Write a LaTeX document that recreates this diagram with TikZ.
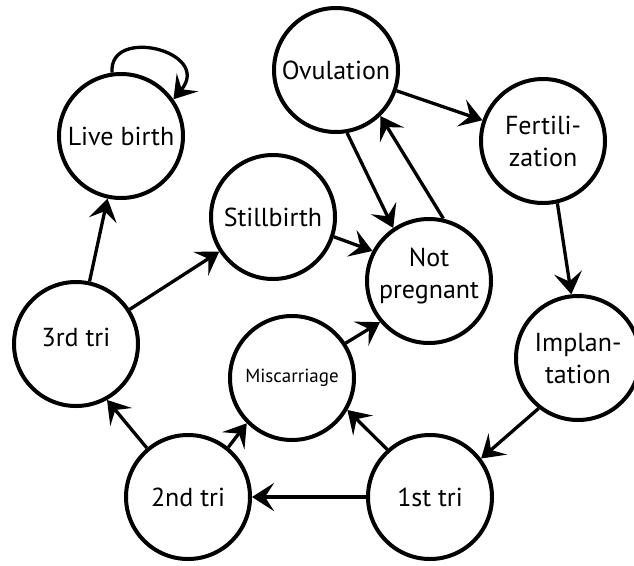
\documentclass[tikz,border=0pt]{standalone}
\usepackage{fontspec}
\setmainfont{PT Sans}
\usetikzlibrary{arrows.meta}
\tikzset{>={Stealth[length=22pt,width=28pt,inset=9pt]}}

\begin{document}
\begin{tikzpicture}[x=1pt,y=-1pt,line width=3.3pt,
  state/.style={draw,circle,line width=4pt,minimum size=124pt,inner sep=0pt,align=center,
    font=\fontsize{26}{32}\selectfont}]
\useasboundingbox (0,0) rectangle (634,565);
% states
\node[state] (ov) at (336,70) {Ovulation};
\node[state] (fert) at (543,141) {Fertili-\\zation};
\node[state,text depth=-10pt] (impl) at (578,358) {Implan-\\tation};
\node[state] (first) at (430,497) {1st tri};
\node[state] (second) at (188,497) {2nd tri};
\node[state,text depth=14pt] (third) at (76,344) {3rd tri};
\node[state] (live) at (121,136) {Live birth};
\node[state] (still) at (273,217) {Stillbirth};
\node[state,text depth=16pt] (notp) at (429,281) {Not\\pregnant};
\node[state,font=\fontsize{19}{23}\selectfont] (misc) at (292,378) {Miscarriage};
% transitions
\draw[->] (ov) -- (fert);
\draw[->] (fert.-77) -- (impl.96);
\draw[->] (impl.232) -- (first.37);
\draw[->] (first) -- (second);
\draw[->] (first.132) -- (misc.-30);
\draw[->] (second.130) -- (third.-61);
\draw[->] (second.51) -- (misc.225);
\draw[->] (third) -- (live);
\draw[->] (third) -- (still);
\draw[->] (still.-18) -- (notp.152);
\draw[->] (misc.33) -- (notp.220);
\draw[->] (ov.-80) -- (notp.124);
\draw[->] (notp.77) -- (ov.-46);
\draw[->] (live.98) .. controls +(-4,-47) and +(40,-48) .. (live.35);
\end{tikzpicture}
\end{document}
